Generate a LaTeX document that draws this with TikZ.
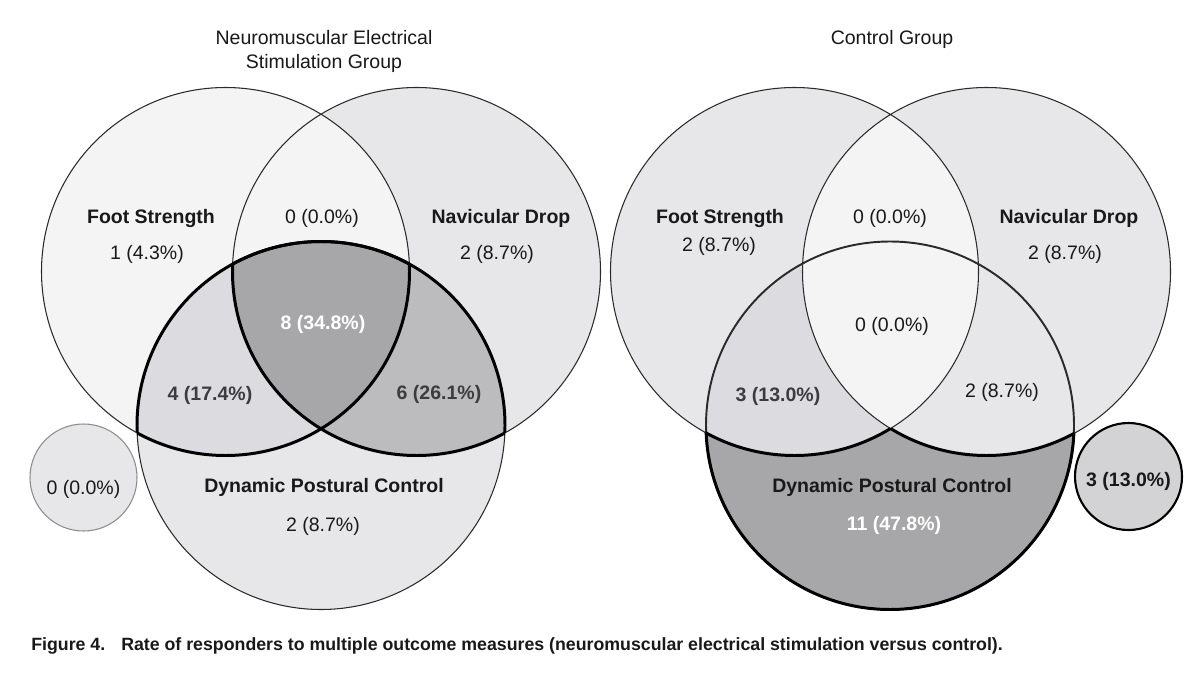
\documentclass[tikz,border=0pt]{standalone}
\usepackage{fontspec}
\setmainfont{Liberation Sans}
\usetikzlibrary{positioning}
\definecolor{vpale}{HTML}{F4F4F5}
\definecolor{vlight}{HTML}{E7E7EA}
\definecolor{vmid}{HTML}{DCDCE0}
\definecolor{vgray}{HTML}{BCBCBF}
\definecolor{vdark}{HTML}{A7A7AA}
\definecolor{vsmall}{HTML}{D3D3D6}
\definecolor{vtext}{HTML}{3C3C3E}
\definecolor{vline}{HTML}{2A2A2A}
\newcommand{\vr}{184}
\newcommand{\fullframe}{(0,0) -- (1200,0) -- (1200,-676) -- (0,-676) -- cycle}
\tikzset{
  txt/.style={inner sep=0pt, anchor=base, text=black!90, font=\fontsize{11.1}{13.6}\selectfont},
  head/.style={txt, font=\fontsize{11.1}{13.6}\selectfont\bfseries},
  numb/.style={head, text=vtext},
  numw/.style={head, text=white},
  fineline/.style={line width=0.6pt, draw=vline},
  midline/.style={line width=1.1pt, draw=vline},
  heavyline/.style={line width=1.7pt, draw=black}
}

\begin{document}
\begin{tikzpicture}[x=0.02cm, y=0.02cm]
  \useasboundingbox (0,0) rectangle (1200,-676);
  \fill[white] (0,0) rectangle (1200,-676);

  % circle centres
  \coordinate (fsL) at (225.5,-271.5);
  \coordinate (ndL) at (416.5,-271.5);
  \coordinate (dpcL) at (321,-425.5);
  \coordinate (fsR) at (794.5,-271.5);
  \coordinate (ndR) at (986.5,-271.5);
  \coordinate (dpcR) at (890,-425.5);

  % left: stimulation group
  \fill[vpale] (fsL) circle (\vr);
  \fill[vlight] (ndL) circle (\vr);
  \begin{scope}
    \clip (fsL) circle (\vr);
    \fill[vpale] (ndL) circle (\vr);
  \end{scope}
  \fill[vlight] (dpcL) circle (\vr);
  \begin{scope}
    \clip (dpcL) circle (\vr);
    \fill[vmid] (fsL) circle (\vr);
    \fill[vgray] (ndL) circle (\vr);
    \clip (fsL) circle (\vr);
    \fill[vdark] (ndL) circle (\vr);
  \end{scope}
  \draw[fineline] (fsL) circle (\vr) (ndL) circle (\vr) (dpcL) circle (\vr);
  \begin{scope}
    \clip (dpcL) circle (\vr);
    \draw[heavyline] (fsL) circle (\vr) (ndL) circle (\vr);
  \end{scope}
  \begin{scope}
    \clip (fsL) circle (\vr);
    \draw[heavyline] (dpcL) circle (\vr);
  \end{scope}
  \begin{scope}
    \clip (ndL) circle (\vr);
    \draw[heavyline] (dpcL) circle (\vr);
  \end{scope}
  \filldraw[fill=vlight, draw=black!45, line width=0.6pt] (83.5,-477.5) coordinate (noneL) circle (53.5);

  % right: control group
  \fill[vlight] (fsR) circle (\vr);
  \fill[vlight] (ndR) circle (\vr);
  \begin{scope}
    \clip (fsR) circle (\vr);
    \fill[vpale] (ndR) circle (\vr);
  \end{scope}
  \fill[vdark] (dpcR) circle (\vr);
  \begin{scope}
    \clip (dpcR) circle (\vr);
    \fill[vmid] (fsR) circle (\vr);
    \fill[vlight] (ndR) circle (\vr);
    \clip (fsR) circle (\vr);
    \fill[vpale] (ndR) circle (\vr);
  \end{scope}
  \draw[fineline] (fsR) circle (\vr) (ndR) circle (\vr);
  \draw[midline] (dpcR) circle (\vr);
  \begin{scope}
    \clip \fullframe (fsR) circle (\vr);
    \clip \fullframe (ndR) circle (\vr);
    \draw[heavyline] (dpcR) circle (\vr);
  \end{scope}
  \begin{scope}
    \clip (dpcR) circle (\vr);
    \clip \fullframe (ndR) circle (\vr);
    \draw[heavyline] (fsR) circle (\vr);
  \end{scope}
  \begin{scope}
    \clip (dpcR) circle (\vr);
    \clip \fullframe (fsR) circle (\vr);
    \draw[heavyline] (ndR) circle (\vr);
  \end{scope}
  \filldraw[fill=vsmall, draw=black, line width=1.2pt] (1128.5,-476.5) coordinate (noneR) circle (53.5);

  % titles
  \node[txt, align=center] (titleL) at (324,-68) {Neuromuscular Electrical\\Stimulation Group};
  \node[txt] (titleR) at (892,-44) {Control Group};

  % left labels
  \node[head] (fsLname) at (151,-223) {Foot Strength};
  \node[txt] (fsLval) at (147,-259) {1 (4.3\%)};
  \node[txt] (fsndL) at (322,-223) {0 (0.0\%)};
  \node[head] (ndLname) at (501,-223) {Navicular Drop};
  \node[txt] (ndLval) at (497,-259) {2 (8.7\%)};
  \node[numw] (allL) at (323,-329) {8 (34.8\%)};
  \node[numb] (fsdpcL) at (210,-400) {4 (17.4\%)};
  \node[numb] (nddpcL) at (439,-399) {6 (26.1\%)};
  \node[head] (dpcLname) at (324,-492) {Dynamic Postural Control};
  \node[txt] (dpcLval) at (323,-531) {2 (8.7\%)};
  \node[txt] (noneLval) at (83.5,-494) {0 (0.0\%)};

  % right labels
  \node[head] (fsRname) at (720,-223) {Foot Strength};
  \node[txt] (fsRval) at (719,-251) {2 (8.7\%)};
  \node[txt] (fsndR) at (890,-223) {0 (0.0\%)};
  \node[head] (ndRname) at (1069,-223) {Navicular Drop};
  \node[txt] (ndRval) at (1065,-259) {2 (8.7\%)};
  \node[txt] (allR) at (892,-331) {0 (0.0\%)};
  \node[numb] (fsdpcR) at (778,-401) {3 (13.0\%)};
  \node[txt] (nddpcR) at (1002,-397) {2 (8.7\%)};
  \node[head] (dpcRname) at (892,-492) {Dynamic Postural Control};
  \node[numw] (dpcRval) at (894,-530) {11 (47.8\%)};
  \node[head] (noneRval) at (1128.5,-486.5) {3 (13.0\%)};

  % caption
  \node[head, anchor=base west, font=\fontsize{10.1}{12}\selectfont\bfseries] (caption) at (31,-650)
    {Figure 4.\hspace{0.9em}Rate of responders to multiple outcome measures (neuromuscular electrical stimulation versus control).};
\end{tikzpicture}
\end{document}
